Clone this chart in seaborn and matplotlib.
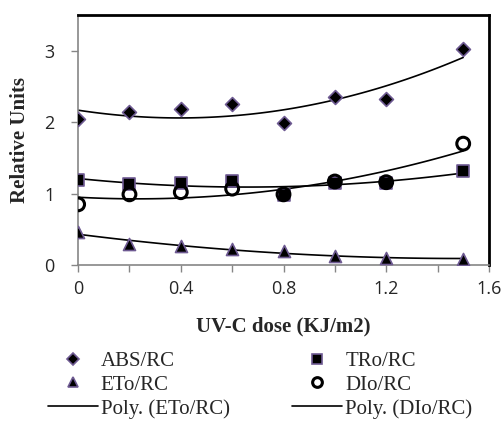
import numpy as np
import pandas as pd
import seaborn as sns
import matplotlib.pyplot as plt
from matplotlib.lines import Line2D

# dose values and ratios
dose = [0, 0.2, 0.4, 0.6, 0.8, 1.0, 1.2, 1.5]
abs_rc = [2.05, 2.14, 2.18, 2.25, 1.99, 2.35, 2.32, 3.03]
tro_rc = [1.19, 1.14, 1.15, 1.18, 0.98, 1.15, 1.15, 1.31]
eto_rc = [0.46, 0.30, 0.27, 0.22, 0.19, 0.12, 0.10, 0.09]
dio_rc = [0.85, 0.99, 1.02, 1.07, 0.99, 1.17, 1.16, 1.70]

sns.set_style("white")
plt.rcParams['font.family'] = ['Liberation Serif', 'DejaVu Serif']

purple = '#6e5a92'
fig = plt.figure(figsize=(5.04, 4.21), dpi=100)
ax = fig.add_axes([0.155, 0.3705, 0.815, 0.5935])

# polynomial (order 2) trend lines, as in Excel
xs = np.linspace(0, 1.5, 100)
for ys in [abs_rc, tro_rc, eto_rc, dio_rc]:
    c = np.polyfit(dose, ys, 2)
    sns.lineplot(x=xs, y=np.polyval(c, xs), color='black', lw=1.2, ax=ax)

sns.scatterplot(x=dose, y=abs_rc, marker='D', s=50, color='black',
                edgecolor=purple, linewidth=1.2, ax=ax, zorder=3)
sns.scatterplot(x=dose, y=tro_rc, marker='s', s=75, color='black',
                edgecolor=purple, linewidth=1.2, ax=ax, zorder=3)
sns.scatterplot(x=dose, y=eto_rc, marker='^', s=75, color='black',
                edgecolor=purple, linewidth=1.2, ax=ax, zorder=3)
sns.scatterplot(x=dose, y=dio_rc, marker='o', s=85, facecolor='none',
                edgecolor='black', linewidth=2.2, ax=ax, zorder=4)

ax.set_xlim(0, 1.6)
ax.set_ylim(0, 3.5)
ax.set_xticks(np.arange(0, 1.61, 0.2))
ax.set_xticklabels(['0', '', '0.4', '', '0.8', '', '1.2', '', '1.6'])
ax.set_yticks([0, 1, 2, 3])
ax.tick_params(axis='both', direction='out', length=5, width=1, color='#868686',
               pad=6)
ax.tick_params(axis='y', pad=12)
for lab in ax.get_xticklabels() + ax.get_yticklabels():
    lab.set_fontfamily('Open Sans')
    lab.set_fontsize(13)
ax.tick_params(bottom=True, left=True)

for s in ['left', 'bottom']:
    ax.spines[s].set_color('#868686')
    ax.spines[s].set_linewidth(1.2)
for s in ['top', 'right']:
    ax.spines[s].set_color('black')
    ax.spines[s].set_linewidth(2)

ax.set_xlabel('UV-C dose (KJ/m2)', fontsize=15, fontweight='bold', labelpad=13)
ax.set_ylabel('Relative Units', fontsize=15, fontweight='bold', labelpad=10)

handles = [
    Line2D([], [], ls='none', marker='D', ms=6, mfc='black', mec=purple, mew=1.2),
    Line2D([], [], ls='none', marker='^', ms=7, mfc='black', mec=purple, mew=1.2),
    Line2D([], [], color='black', lw=1.2),
    Line2D([], [], ls='none', marker='s', ms=7, mfc='black', mec=purple, mew=1.2),
    Line2D([], [], ls='none', marker='o', ms=7, mfc='none', mec='black', mew=2.2),
    Line2D([], [], color='black', lw=1.2),
]
labels = ['ABS/RC', 'ETo/RC', 'Poly. (ETo/RC)', 'TRo/RC', 'DIo/RC', 'Poly. (DIo/RC)']
fig.legend(handles, labels, loc='upper left', bbox_to_anchor=(0.078, 0.185),
           ncol=2, frameon=False, fontsize=15, handlelength=2.4,
           handletextpad=0.15, columnspacing=3.0, labelspacing=0.2,
           borderaxespad=0)

fig.savefig('out.png', dpi=100)
